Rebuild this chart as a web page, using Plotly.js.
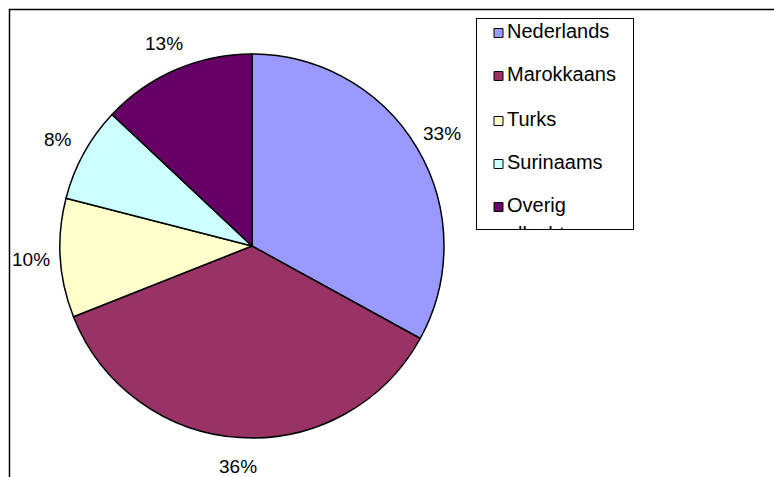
<!DOCTYPE html>
<html>
<head>
<meta charset="utf-8">
<script src="https://cdn.plot.ly/plotly-3.0.1.min.js"></script>
<style>html,body{margin:0;padding:0;background:#fff;}#chart{width:774px;height:477px;}</style>
</head>
<body>
<div id="chart"></div>
<script>
// Data
var labels = ["Nederlands", "Marokkaans", "Turks", "Surinaams", "Overig allochtoon"];
var values = [33, 36, 10, 8, 13];
var colors = ["#9999FF", "#993366", "#FFFFCC", "#CCFFFF", "#660066"];

var W = 774, H = 477;
var FONT = "Liberation Sans, Arial, sans-serif";

// Pie geometry (pixels)
var pieLeft = 60, pieRight = 444, pieTop = 54, pieBottom = 438;
var cx = (pieLeft + pieRight) / 2, cy = (pieTop + pieBottom) / 2, R = (pieRight - pieLeft) / 2;

var pie = {
  type: "pie",
  labels: labels,
  values: values,
  sort: false,
  direction: "clockwise",
  rotation: 0,
  textinfo: "none",
  marker: {colors: colors, line: {color: "#000", width: 1.5}},
  domain: {x: [pieLeft / W, pieRight / W], y: [1 - pieBottom / H, 1 - pieTop / H]},
  showlegend: false,
  hoverinfo: "label+percent"
};

// Percentage labels placed outside each slice at its mid angle
var total = values.reduce(function (a, b) { return a + b; }, 0);
var annotations = [];
var cum = 0;
var labelDist = R + 29;
values.forEach(function (v) {
  var mid = (cum + v / 2) / total * 2 * Math.PI;
  cum += v;
  var px = cx + labelDist * Math.sin(mid);
  var py = cy - labelDist * Math.cos(mid);
  annotations.push({
    xref: "paper", yref: "paper", x: px / W, y: 1 - py / H,
    xanchor: "center", yanchor: "middle", showarrow: false,
    text: Math.round(v / total * 100) + "%",
    font: {family: FONT, size: 19, color: "#000"}
  });
});

// Custom legend inside a boxed subplot so that overflowing text is clipped
var boxL = 477, boxR = 633, boxT = 19, boxB = 229;
var itemY = [14, 57, 102, 145, 188];
var line1 = [], line2 = [], line2Y = [], line2X = [];
labels.forEach(function (lab, i) {
  if (lab.length > 12 && lab.indexOf(" ") > 0) {
    var k = lab.indexOf(" ");
    line1.push(lab.slice(0, k));
    line2.push(lab.slice(k + 1));
    line2Y.push(itemY[i] + 29);
    line2X.push(30);
  } else {
    line1.push(lab);
  }
});

var legendSwatches = {
  type: "scatter", mode: "markers",
  x: labels.map(function () { return 21.5; }), y: itemY,
  marker: {symbol: "square", size: 9, color: colors, line: {color: "#000", width: 1}},
  cliponaxis: true, showlegend: false, hoverinfo: "skip", xaxis: "x", yaxis: "y"
};
var legendText = {
  type: "scatter", mode: "text",
  x: labels.map(function () { return 30; }).concat(line2X),
  y: itemY.concat(line2Y),
  text: line1.concat(line2),
  textposition: "middle right",
  textfont: {family: FONT, size: 20, color: "#000"},
  cliponaxis: true, showlegend: false, hoverinfo: "skip", xaxis: "x", yaxis: "y"
};

var layout = {
  width: W, height: H,
  margin: {l: 0, r: 0, t: 0, b: 0, pad: 0},
  paper_bgcolor: "#fff",
  plot_bgcolor: "rgba(0,0,0,0)",
  font: {family: FONT, size: 19, color: "#000"},
  showlegend: false,
  xaxis: {
    domain: [boxL / W, boxR / W], range: [0, boxR - boxL],
    showgrid: false, zeroline: false, showticklabels: false, ticks: "",
    showline: true, mirror: true, linecolor: "#000", linewidth: 1, fixedrange: true
  },
  yaxis: {
    domain: [1 - boxB / H, 1 - boxT / H], range: [boxB - boxT, 0],
    showgrid: false, zeroline: false, showticklabels: false, ticks: "",
    showline: true, mirror: true, linecolor: "#000", linewidth: 1, fixedrange: true
  },
  annotations: annotations,
  shapes: [{
    type: "rect", xref: "paper", yref: "paper",
    x0: 9.5 / W, x1: 1.05, y0: -0.05, y1: 1 - 9.5 / H,
    line: {color: "#000", width: 1.5}, fillcolor: "rgba(0,0,0,0)", layer: "below"
  }]
};

Plotly.newPlot("chart", [pie, legendSwatches, legendText], layout, {staticPlot: true, displayModeBar: false});
</script>
</body>
</html>
